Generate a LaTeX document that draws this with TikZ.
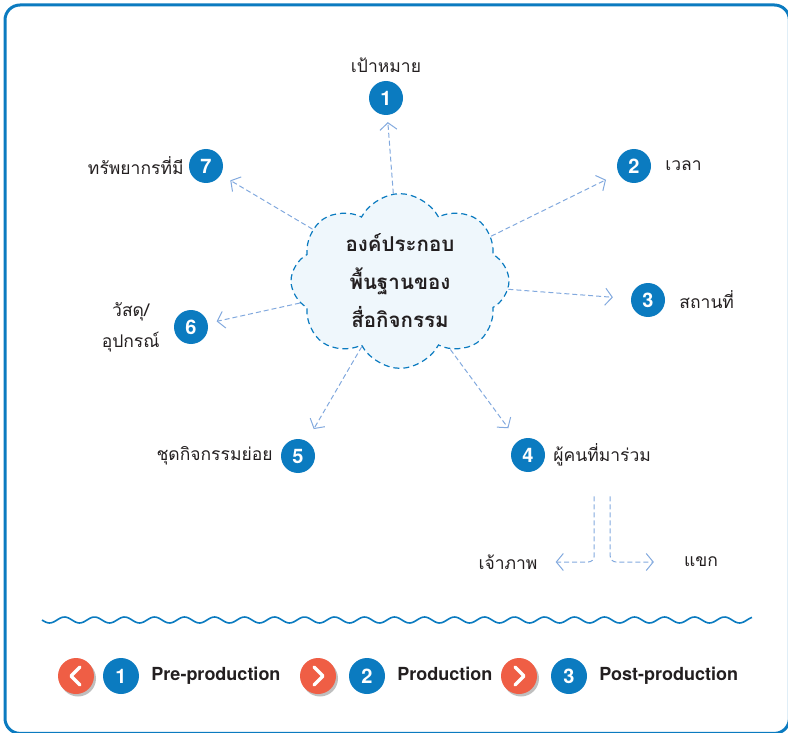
\documentclass[tikz,border=0pt]{standalone}
\usepackage{fontspec}
\setmainfont{TeX Gyre Heros}
\newfontfamily\thaifont[Script=Thai]{Loma}
\usetikzlibrary{arrows.meta,positioning,shapes.symbols,shadows}
\definecolor{accent}{HTML}{0B7BC0}
\definecolor{warm}{HTML}{EF5E45}
\definecolor{link}{HTML}{82A9DE}
\definecolor{cloudbg}{HTML}{EFF7FC}
\definecolor{ink}{HTML}{231F20}

\begin{document}
\begin{tikzpicture}[x=1pt, y=-1pt,
  node distance=0pt,
  num/.style={circle, fill=accent, text=white, minimum size=34pt, inner sep=0pt,
              font=\fontsize{20}{20}\selectfont\bfseries},
  key/.style={num, minimum size=36pt},
  nav/.style={circle, fill=warm, minimum size=36pt, inner sep=0pt,
              drop shadow={shadow xshift=2pt, shadow yshift=-2.5pt, fill=black!25, opacity=1}},
  chev/.style={draw=white, line width=3.2pt, line cap=round, line join=round},
  lbl/.style={font=\thaifont\fontsize{17.5}{21}\selectfont, text=ink, inner sep=2pt, align=center},
  stage/.style={font=\fontsize{18}{18}\selectfont\bfseries, text=ink, inner sep=2pt,
                text height=13pt, text depth=4pt},
  arr/.style={-{Straight Barb[length=7pt,width=17pt]}, draw=link, line width=1pt,
              dash pattern=on 5pt off 3pt, shorten >=12pt}]

\useasboundingbox (0,0) rectangle (788,733);
\draw[accent, line width=3pt, rounded corners=15pt] (5,5) rectangle (789.4,733.4);

% centre
\node[cloud, cloud puffs=8, cloud puff arc=125, aspect=1.3, minimum width=218pt, minimum height=168pt,
      draw=accent, line width=1.2pt, dash pattern=on 6pt off 4pt, fill=cloudbg, align=center,
      font=\thaifont\bfseries\fontsize{20.5}{38}\selectfont, text=ink] (core) at (400,281)
      {องค์ประกอบ\\พื้นฐานของ\\สื่อกิจกรรม};

% elements
\node[num] (n1) at (386,98) {1};
\node[lbl, above=6pt of n1] (t1) {เป้าหมาย};
\node[num] (n2) at (634,166) {2};
\node[lbl, right=12pt of n2] (t2) {เวลา};
\node[num] (n3) at (648,300) {3};
\node[lbl, right=12pt of n3] (t3) {สถานที่};
\node[num] (n4) at (528,455) {4};
\node[lbl, right=6pt of n4] (t4) {ผู้คนที่มาร่วม};
\node[num] (n5) at (298,456) {5};
\node[lbl, left=6pt of n5] (t5) {ชุดกิจกรรมย่อย};
\node[num] (n6) at (191,327) {6};
\node[lbl, left=12pt of n6, font=\thaifont\fontsize{17.5}{31}\selectfont] (t6) {วัสดุ/\\อุปกรณ์};
\node[num] (n7) at (206,166) {7};
\node[lbl, left=3pt of n7] (t7) {ทรัพยากรที่มี};

\draw[arr, shorten >=7pt] (core) -- (n1);
\draw[arr, shorten >=14pt] (core) -- (n2);
\draw[arr, shorten >=18pt] (core) -- (n3);
\draw[arr, shorten >=16pt] (core) -- (n4);
\draw[arr, shorten >=14pt] (core) -- (n5);
\draw[arr, shorten >=9pt] (core) -- (n6);
\draw[arr, shorten >=11pt] (core) -- (n7);

% people
\node[lbl] (host) at (508,562) {เจ้าภาพ};
\node[lbl] (guest) at (701,562) {แขก};
\draw[arr, shorten >=0pt, rounded corners=6pt] ([xshift=-8pt,yshift=-28pt]t4.south) |- ([xshift=16pt]host.east);
\draw[arr, shorten >=0pt, rounded corners=6pt] ([xshift=8pt,yshift=-28pt]t4.south) |- ([xshift=-28pt]guest.west);

% divider
\draw[accent, line width=1.6pt] plot[domain=42:752, samples=400, smooth] (\x, {620+3*sin(12*(\x-42))});

% stages
\node[nav] (b1) at (76,676) {};
\draw[chev] ([shift={(4,-9)}]b1.center) -- ([shift={(-5,0)}]b1.center) -- ([shift={(4,9)}]b1.center);
\node[key] (k1) at (121,676) {1};
\node[stage, right=10pt of k1] (s1) {Pre-production};
\node[nav] (b2) at (318,676) {};
\draw[chev] ([shift={(-4,-9)}]b2.center) -- ([shift={(5,0)}]b2.center) -- ([shift={(-4,9)}]b2.center);
\node[key] (k2) at (367,676) {2};
\node[stage, right=10pt of k2] (s2) {Production};
\node[nav] (b3) at (519,676) {};
\draw[chev] ([shift={(-4,-9)}]b3.center) -- ([shift={(5,0)}]b3.center) -- ([shift={(-4,9)}]b3.center);
\node[key] (k3) at (569,676) {3};
\node[stage, right=10pt of k3] (s3) {Post-production};
\end{tikzpicture}
\end{document}
